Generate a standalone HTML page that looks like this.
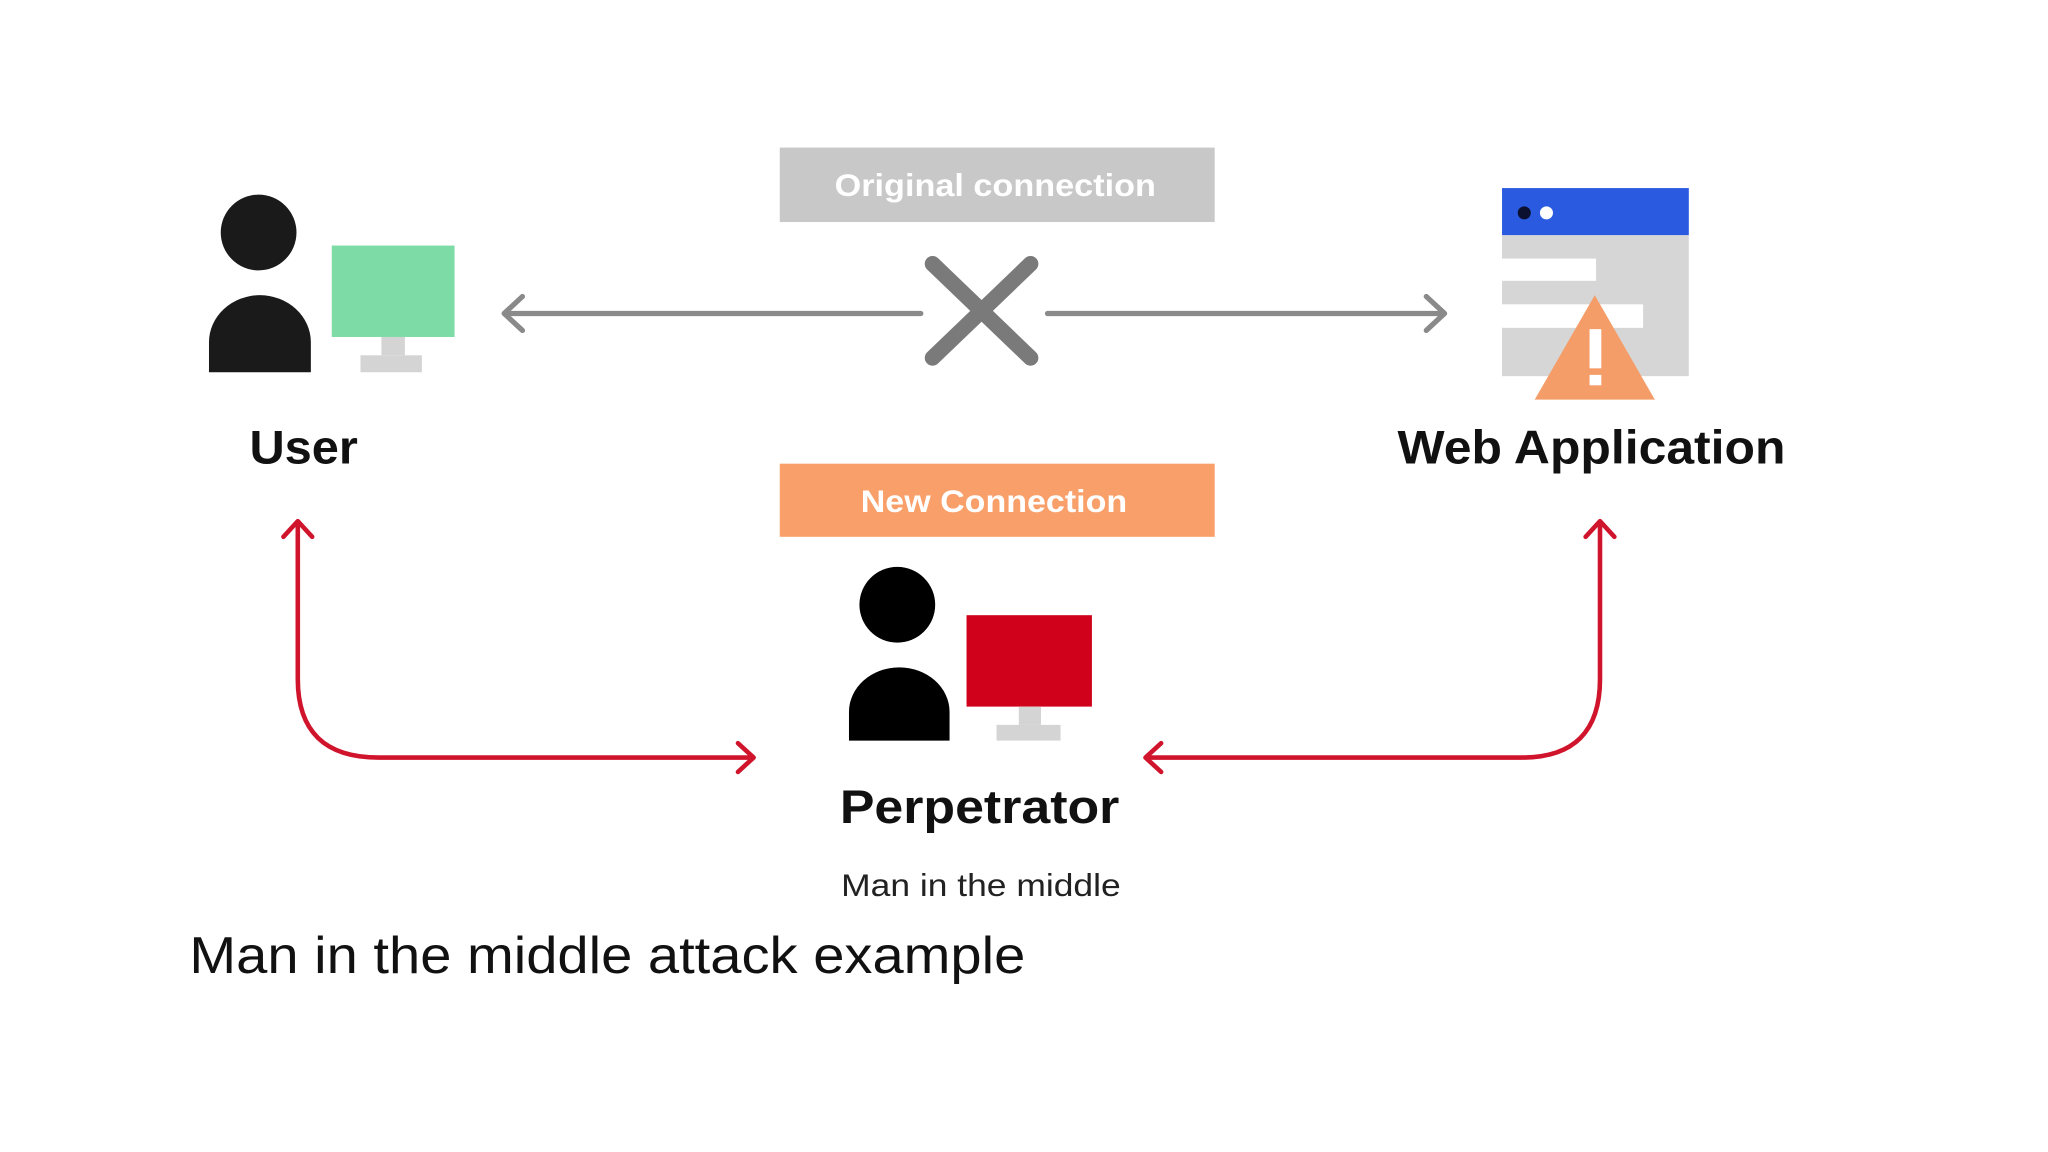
<!DOCTYPE html>
<html><head><meta charset="utf-8"><style>
html,body{margin:0;padding:0;background:#fff;}
svg{display:block;}
text{font-family:"Liberation Sans",sans-serif;}
</style></head><body>
<svg width="2048" height="1152" viewBox="0 0 1568 882" preserveAspectRatio="none" xmlns="http://www.w3.org/2000/svg">
<rect width="1568" height="882" fill="#fff"/>
<!-- Original connection -->
<rect x="597" y="113" width="333" height="57" fill="#c8c8c8"/>
<text x="639" y="150" font-size="24" font-weight="bold" fill="#fff" textLength="246" lengthAdjust="spacingAndGlyphs">Original connection</text>
<!-- gray arrows -->
<g stroke="#8a8a8a" stroke-width="4" fill="none" stroke-linecap="round" stroke-linejoin="round">
<line x1="387" y1="240" x2="705" y2="240"/>
<polyline points="400,227 386,240 400,253"/>
<line x1="802" y1="240" x2="1105" y2="240"/>
<polyline points="1092,227 1106,240 1092,253"/>
</g>
<g stroke="#7a7a7a" stroke-width="12" stroke-linecap="round">
<line x1="714" y1="202" x2="789" y2="274"/>
<line x1="789" y1="202" x2="714" y2="274"/>
</g>
<!-- User -->
<circle cx="198" cy="178" r="29" fill="#1a1a1a"/>
<path d="M160 285 V262 A39 36 0 0 1 238 262 V285 Z" fill="#1a1a1a"/>
<rect x="254" y="188" width="94" height="70" fill="#7ddba5"/>
<rect x="292" y="258" width="18" height="14" fill="#d4d4d4"/>
<rect x="276" y="272" width="47" height="13" fill="#d4d4d4"/>
<text x="191" y="355" font-size="36" font-weight="bold" fill="#111" textLength="83" lengthAdjust="spacingAndGlyphs">User</text>
<!-- Web app -->
<rect x="1150" y="180" width="143" height="108" fill="#d6d6d6"/>
<rect x="1150" y="144" width="143" height="36" fill="#2a5ae0"/>
<circle cx="1167" cy="163" r="5" fill="#0b1030"/>
<circle cx="1184" cy="163" r="5" fill="#fff"/>
<rect x="1150" y="198" width="72" height="17" fill="#fff"/>
<rect x="1150" y="233" width="108" height="18" fill="#fff"/>
<polygon points="1221,226 1267,306 1175,306" fill="#f59d68"/>
<rect x="1217" y="252" width="9" height="30" fill="#fff"/>
<rect x="1217" y="287" width="9" height="8" fill="#fff"/>
<text x="1070" y="355" font-size="36" font-weight="bold" fill="#111" textLength="297" lengthAdjust="spacingAndGlyphs">Web Application</text>
<!-- New connection -->
<rect x="597" y="355" width="333" height="56" fill="#f9a06a"/>
<text x="659" y="392" font-size="24" font-weight="bold" fill="#fff" textLength="204" lengthAdjust="spacingAndGlyphs">New Connection</text>
<!-- Perpetrator -->
<circle cx="687" cy="463" r="29" fill="#000"/>
<path d="M650 567 V545 A38.5 34 0 0 1 727 545 V567 Z" fill="#000"/>
<rect x="740" y="471" width="96" height="70" fill="#d0021b"/>
<rect x="780" y="541" width="17" height="14" fill="#d4d4d4"/>
<rect x="763" y="555" width="49" height="12" fill="#d4d4d4"/>
<text x="643" y="630" font-size="36" font-weight="bold" fill="#111" textLength="214" lengthAdjust="spacingAndGlyphs">Perpetrator</text>
<text x="644" y="686" font-size="24" fill="#222" textLength="214" lengthAdjust="spacingAndGlyphs">Man in the middle</text>
<!-- red connectors -->
<g stroke="#d0142c" stroke-width="3.5" fill="none" stroke-linecap="round" stroke-linejoin="round">
<path d="M228 400 V520 Q228 580 290 580 H576"/>
<polyline points="217,411 228,399 239,411"/>
<polyline points="565,569 577,580 565,591"/>
<path d="M878 580 H1165 Q1225 580 1225 520 V400"/>
<polyline points="889,569 877,580 889,591"/>
<polyline points="1214,411 1225,399 1236,411"/>
</g>
<text x="145" y="745" font-size="40" fill="#111" textLength="640" lengthAdjust="spacingAndGlyphs">Man in the middle attack example</text>
</svg>
</body></html>
